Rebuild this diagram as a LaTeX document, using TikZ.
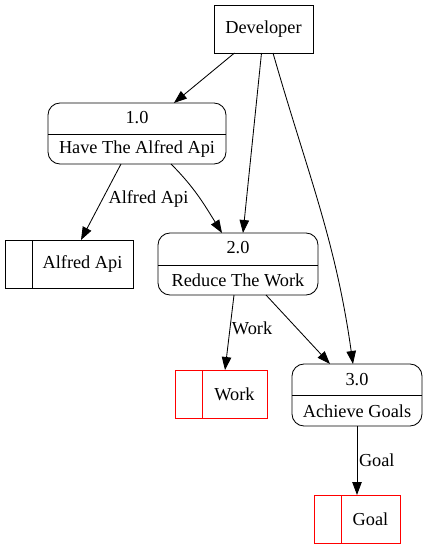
\documentclass[tikz,border=0pt]{standalone}
\usepackage{fontspec}
\setmainfont{Liberation Serif}
\usetikzlibrary{arrows.meta}
\begin{document}
\begin{tikzpicture}[x=1pt,y=-1pt,
  font=\fontsize{18.3}{22}\selectfont,
  every node/.style={inner sep=0pt,outer sep=0pt},
  ext/.style={draw,line width=0.85pt,minimum width=#1,minimum height=48pt},
  proc/.style={draw,line width=0.85pt,rounded corners=12pt},
  store/.style={draw,line width=0.85pt,minimum height=48pt},
  divl/.style={line width=0.85pt},
  flow/.style={line width=0.85pt,-{Triangle[length=13pt,width=9.5pt]}},
  lbl/.style={anchor=west,inner sep=2pt}]
\useasboundingbox (0,0) rectangle (428,549);
% external entity
\node[ext=99pt] (dev) at (263.5,29) {Developer};
% processes
\node[proc,minimum width=178pt,minimum height=61pt] (p1) at (137,133.5) {};
\draw[divl] (p1.west |- 0,134) -- (p1.east |- 0,134);
\node (p1n) at (137,118) {1.0};
\node (p1t) at (137,149) {Have The Alfred Api};
\node[proc,minimum width=160pt,minimum height=62pt] (p2) at (238,264) {};
\draw[divl] (p2.west |- 0,265) -- (p2.east |- 0,265);
\node (p2n) at (238,248) {2.0};
\node (p2t) at (238,280) {Reduce The Work};
\node[proc,minimum width=130pt,minimum height=62pt] (p3) at (357,395) {};
\draw[divl] (p3.west |- 0,395) -- (p3.east |- 0,395);
\node (p3n) at (357,380) {3.0};
\node (p3t) at (357,411) {Achieve Goals};
% stores
\node[store,minimum width=128pt] (a) at (69,264) {};
\draw[divl] ([xshift=27pt]a.north west) -- ([xshift=27pt]a.south west);
\node (at) at (82.5,264) {Alfred Api};
\node[store,draw=red,minimum width=92pt] (w) at (221,394) {};
\draw[divl,red] ([xshift=27pt]w.north west) -- ([xshift=27pt]w.south west);
\node (wt) at (234.5,394) {Work};
\node[store,draw=red,minimum width=86pt] (g) at (357,519) {};
\draw[divl,red] ([xshift=27pt]g.north west) -- ([xshift=27pt]g.south west);
\node (gt) at (370.5,519) {Goal};
% flows
\draw[flow] (dev) -- (p1);
\draw[flow] ([xshift=-2pt]dev.south) -- ([xshift=5pt]p2.north);
\draw[flow] ([xshift=9.5pt]dev.south) to[out=-74,in=98] ([xshift=-4pt]p3.north);
\draw[flow] ([xshift=-16pt]p1.south) -- node[lbl,pos=0.46,xshift=4pt] {Alfred Api} ([xshift=12pt]a.north);
\draw[flow] ([xshift=34pt]p1.south) to[out=-45,in=122] ([xshift=-16pt]p2.north);
\draw[flow] ([xshift=-4pt]p2.south) -- node[lbl,pos=0.45] {Work} ([xshift=4pt]w.north);
\draw[flow] ([xshift=28pt]p2.south) -- ([xshift=-27pt]p3.north);
\draw[flow] (p3) -- node[lbl,pos=0.5] {Goal} (g);
\end{tikzpicture}
\end{document}
